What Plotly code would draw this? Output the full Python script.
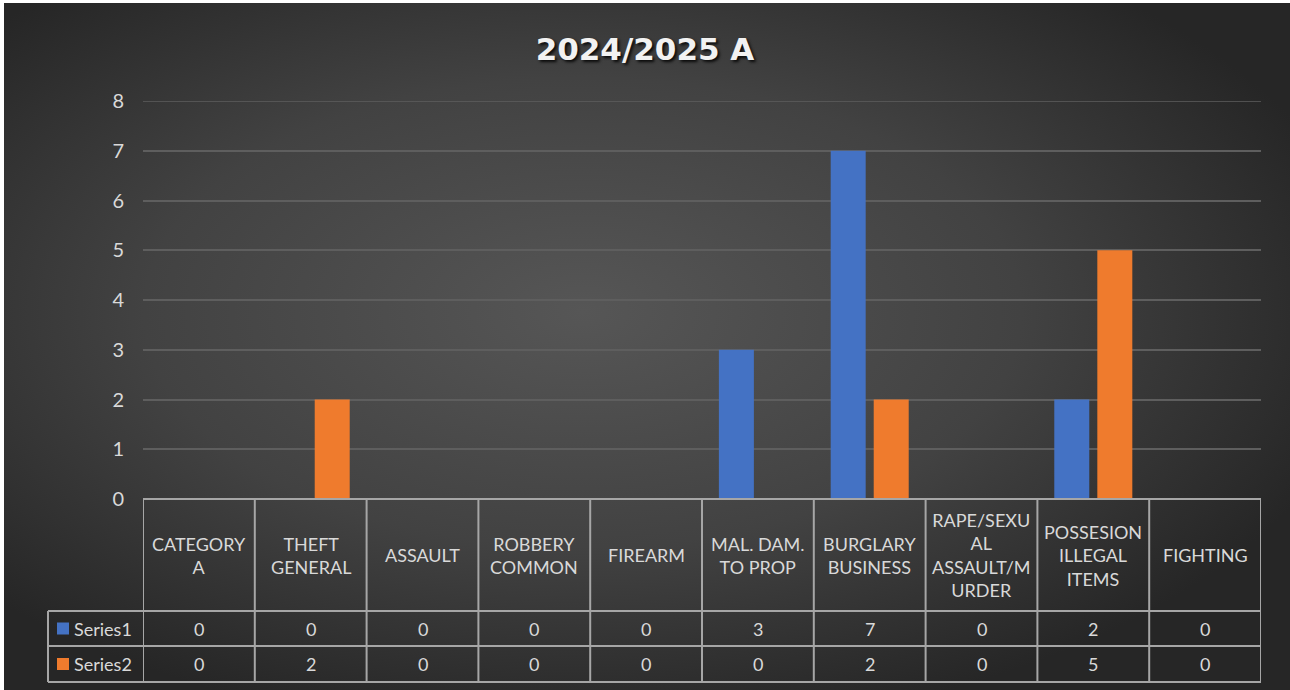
import base64
import plotly.graph_objects as go

# ---------------- data ----------------
categories = ["CATEGORY A", "THEFT GENERAL", "ASSAULT", "ROBBERY COMMON", "FIREARM",
              "MAL. DAM. TO PROP", "BURGLARY BUSINESS", "RAPE/SEXUAL ASSAULT/MURDER",
              "POSSESION ILLEGAL ITEMS", "FIGHTING"]
header_labels = ["CATEGORY<br>A", "THEFT<br>GENERAL", "ASSAULT", "ROBBERY<br>COMMON", "FIREARM",
                 "MAL. DAM.<br>TO PROP", "BURGLARY<br>BUSINESS", "RAPE/SEXU<br>AL<br>ASSAULT/M<br>URDER",
                 "POSSESION<br>ILLEGAL<br>ITEMS", "FIGHTING"]
series_names = ["Series1", "Series2"]
series1 = [0, 0, 0, 0, 0, 3, 7, 0, 2, 0]
series2 = [0, 2, 0, 0, 0, 0, 2, 0, 5, 0]
y_ticks = [0, 1, 2, 3, 4, 5, 6, 7, 8]
title_text = "2024/2025 A"

# ---------------- styles ----------------
W, H = 1290, 690
L, R, T, B = 143, 29, 101, 191
plot_w = W - L - R
plot_h = H - T - B
BLUE = "#4472c4"
ORANGE = "#ef7b2d"
TXT = "#d9d9d9"
BORDER = "#a6a6a6"
GRID = "#5e5e5e"
FONT = "Lato"

def py2paper(py):
    return (H - B - py) / plot_h

def px2paper(px):
    return (px - L) / plot_w

# background radial gradient (SVG)
svg = ('<svg xmlns="http://www.w3.org/2000/svg" width="1286" height="687" '
       'viewBox="0 0 1286 687" preserveAspectRatio="none"><defs>'
       '<radialGradient id="g" cx="0.45" cy="0.45" r="0.62">'
       '<stop offset="0" stop-color="#565656"/><stop offset="0.55" stop-color="#424242"/>'
       '<stop offset="1" stop-color="#262626"/></radialGradient></defs>'
       '<rect width="1286" height="687" fill="url(#g)"/></svg>')
bg_uri = "data:image/svg+xml;base64," + base64.b64encode(svg.encode()).decode()

fig = go.Figure()
bar_w = 0.313
fig.add_trace(go.Bar(x=list(range(len(categories))), y=series1, name=series_names[0],
                     marker=dict(color=BLUE, line=dict(width=0)),
                     width=bar_w, offset=-0.349, hovertext=categories))
fig.add_trace(go.Bar(x=list(range(len(categories))), y=series2, name=series_names[1],
                     marker=dict(color=ORANGE, line=dict(width=0)),
                     width=bar_w, offset=0.036, hovertext=categories))

shapes = []
annotations = []

row_tops = [py2paper(499), py2paper(611), py2paper(646), py2paper(682)]
left_x = px2paper(48)
n = len(categories)

# top gridline (at the axis maximum)
shapes.append(dict(type="line", xref="paper", yref="y", x0=0, x1=1,
                   y0=y_ticks[-1], y1=y_ticks[-1], line=dict(color=GRID, width=1.5), layer="below"))

# horizontal borders
shapes.append(dict(type="line", xref="x", yref="paper", x0=-0.5, x1=n - 0.5,
                   y0=row_tops[0], y1=row_tops[0], line=dict(color=BORDER, width=2)))
for yv in row_tops[1:]:
    shapes.append(dict(type="line", xref="paper", yref="paper", x0=left_x, x1=1,
                       y0=yv, y1=yv, line=dict(color=BORDER, width=2)))
# vertical borders
for i in range(n + 1):
    shapes.append(dict(type="line", xref="x", yref="paper", x0=i - 0.5, x1=i - 0.5,
                       y0=row_tops[0], y1=row_tops[3], line=dict(color=BORDER, width=2)))
shapes.append(dict(type="line", xref="paper", yref="paper", x0=left_x, x1=left_x,
                   y0=row_tops[1], y1=row_tops[3], line=dict(color=BORDER, width=2)))

# header labels
for i, lab in enumerate(header_labels):
    annotations.append(dict(x=i, y=(row_tops[0] + row_tops[1]) / 2, xref="x", yref="paper",
                            text=lab, showarrow=False, xanchor="center", yanchor="middle",
                            font=dict(family=FONT, size=18, color=TXT)))

# data rows
for r, (name, vals, col) in enumerate(zip(series_names, [series1, series2], [BLUE, ORANGE])):
    yc = (row_tops[r + 1] + row_tops[r + 2]) / 2
    for i, v in enumerate(vals):
        annotations.append(dict(x=i, y=yc, xref="x", yref="paper", text=str(v),
                                showarrow=False, xanchor="center", yanchor="middle",
                                font=dict(family=FONT, size=18, color=TXT)))
    shapes.append(dict(type="rect", xref="paper", yref="paper",
                       x0=px2paper(57), x1=px2paper(69), y0=yc - 6 / plot_h, y1=yc + 6 / plot_h,
                       fillcolor=col, line=dict(width=0)))
    annotations.append(dict(x=px2paper(72), y=yc, xref="paper", yref="paper", text=name,
                            showarrow=False, xanchor="left", yanchor="middle",
                            font=dict(family=FONT, size=18, color=TXT)))

fig.update_layout(
    width=W, height=H,
    margin=dict(l=L, r=R, t=T, b=B, autoexpand=False),
    paper_bgcolor="white",
    plot_bgcolor="rgba(0,0,0,0)",
    showlegend=False,
    barmode="group",
    title=dict(text=title_text, x=0.5, xanchor="center", y=1 - 49 / H, yanchor="middle",
               font=dict(family="DejaVu Sans", size=31, color="#f2f2f2", weight="bold",
                         shadow="2px 2px 3px rgba(0,0,0,0.85)")),
    xaxis=dict(range=[-0.5, n - 0.5], showticklabels=False, showgrid=False, zeroline=False,
               showline=False, ticks="", fixedrange=True),
    yaxis=dict(range=[0, y_ticks[-1]], tickvals=y_ticks, showgrid=True, gridcolor=GRID, gridwidth=1.5,
               zeroline=False, showline=False, ticks="", ticklabelstandoff=18,
               tickfont=dict(family=FONT, size=20, color=TXT)),
    shapes=shapes,
    annotations=annotations,
    images=[dict(source=bg_uri, xref="paper", yref="paper",
                 x=px2paper(4), y=py2paper(3), sizex=(W - 4) / plot_w, sizey=(H - 3) / plot_h,
                 xanchor="left", yanchor="top", sizing="stretch", layer="below")],
)

fig.write_html("out.html", config={"displayModeBar": False},
               post_script="document.body.style.margin='0';document.body.style.overflow='hidden';")
